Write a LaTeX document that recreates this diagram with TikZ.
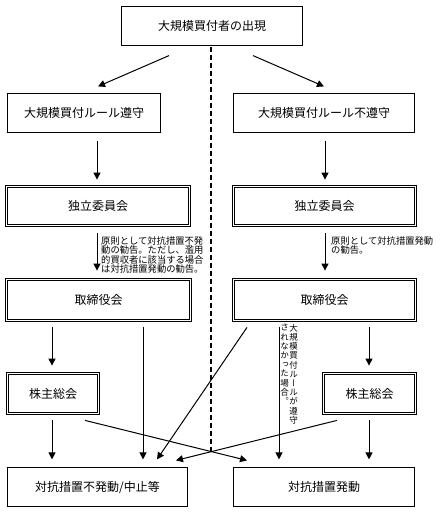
\documentclass[tikz,border=0pt]{standalone}
\usepackage{fontspec}
\setmainfont{Noto Sans CJK JP}
\newfontfamily\vfont[RawFeature={+vert}]{Noto Sans CJK JP}
\XeTeXlinebreaklocale "ja"
\XeTeXlinebreakskip=0pt plus 3pt
\usetikzlibrary{arrows.meta,calc}
\begin{document}
\begin{tikzpicture}[x=1pt,y=-1pt,
  box/.style={draw,line width=1.2pt,inner sep=0pt,font=\fontsize{12}{14}\selectfont},
  dbox/.style={draw,double,double distance=1.6pt,line width=0.8pt,inner sep=0pt,font=\fontsize{12}{14}\selectfont},
  arr/.style={line width=1pt,-{Triangle[length=7pt,width=7pt]}},
  ln/.style={line width=1pt},
  note/.style={inner sep=0pt,align=left,anchor=north west,font=\fontsize{9.3}{9.4}\selectfont},
  vtxt/.style={inner sep=0pt,align=center,anchor=north,font=\vfont\fontsize{8.5}{9.2}\selectfont},
  sep/.style={line width=1.2pt,dash pattern=on 5pt off 3pt}]
\useasboundingbox (0,0) rectangle (441,513);

% boxes
\node[box,minimum width=181pt,minimum height=39pt] (top) at (212,26) {大規模買付者の出現};
\node[box,minimum width=153pt,minimum height=39pt] (L2) at (84,113) {大規模買付ルール遵守};
\node[box,minimum width=181pt,minimum height=39pt] (R2) at (324,113) {大規模買付ルール不遵守};
\node[dbox,minimum width=183pt,minimum height=39pt] (L3) at (98,206) {独立委員会};
\node[dbox,minimum width=182pt,minimum height=39pt] (R3) at (324.5,206) {独立委員会};
\node[dbox,minimum width=184pt,minimum height=41pt] (L4) at (98.5,300) {取締役会};
\node[dbox,minimum width=182pt,minimum height=41pt] (R4) at (324.5,300) {取締役会};
\node[dbox,minimum width=91pt,minimum height=40pt] (L5) at (53,393.5) {株主総会};
\node[dbox,minimum width=92pt,minimum height=40pt] (R5) at (369.5,393.5) {株主総会};
\node[box,minimum width=180pt,minimum height=39pt] (L6) at (97.5,487) {対抗措置不発動/中止等};
\node[box,minimum width=181pt,minimum height=39pt] (R6) at (324,487) {対抗措置発動};

% separator
\coordinate (dend) at (211,452);
\draw[sep] ($(top.south)+(-1,0.5)$) -- (dend);

% top branches
\draw[arr] ($(top.south)+(-43,9.5)$) -- ($(L2.north)+(14,-6.5)$);
\draw[arr] ($(top.south)+(41,9.5)$) -- ($(R2.north)+(0,-6.5)$);

% to committees
\draw[arr] ($(L3.north |- L2.south)+(-1,7.5)$) -- ($(L3.north)+(-1,-6.5)$);
\draw[arr] ($(R3.north |- R2.south)+(0.5,7.5)$) -- ($(R3.north)+(0.5,-6.5)$);

% committees to boards
\draw[arr] ($(L3.south)+(-1,7.5)$) -- ($(L3.south |- L4.north)+(-1,-8.5)$);
\draw[arr] ($(R3.south)+(0.5,7.5)$) -- ($(R3.south |- R4.north)+(0.5,-8.5)$);

\node[note] (n1) at (101,236.5) {原則として対抗措置不発\\動の勧告。ただし、濫用\\的買収者に該当する場合\\は対抗措置発動の勧告。};
\node[note] (n2) at (331,236.5) {\makebox[101pt][s]{原則として対抗措置発動}\\の勧告。};

% boards outputs
\draw[arr] ($(L5.north |- L4.south)+(-1,6.5)$) -- ($(L5.north)+(-1,-7.5)$);
\draw[arr] ($(L4.south)+(44.5,6.5)$) -- ($(L6.north)+(45.5,-7.5)$);
\draw[arr] ($(R4.south)+(-77.5,6.5)$) -- ($(L6.north)+(59.5,-7.5)$);
\draw[arr] ($(R4.south)+(-45.5,6.5)$) -- ($(R6.north)+(-45,-7.5)$);
\draw[arr] ($(R4.south)+(44.5,6.5)$) -- ($(R5.north)+(-0.5,-7.5)$);

\node[vtxt] (v1) at (293.5,324) {大\\規\\模\\買\\付\\ル\\ー\\ル\\が\\遵\\守};
\node[vtxt] (v2) at (284.5,324) {さ\\れ\\な\\か\\っ\\た\\場\\合\\。};

% shareholders outputs
\draw[arr] ($(L5.south)+(-1,6.5)$) -- ($(L6.north)+(-45.5,-7.5)$);
\draw[arr] ($(L5.south)+(32,6.5)$) -- ($(R6.north)+(-77,-6.5)$);
\draw[arr] ($(R5.south)+(-32.5,6.5)$) -- ($(L6.north)+(78.5,-6.5)$);
\draw[arr] ($(R5.south)+(-0.5,6.5)$) -- ($(R6.north)+(45,-7.5)$);
\end{tikzpicture}
\end{document}
